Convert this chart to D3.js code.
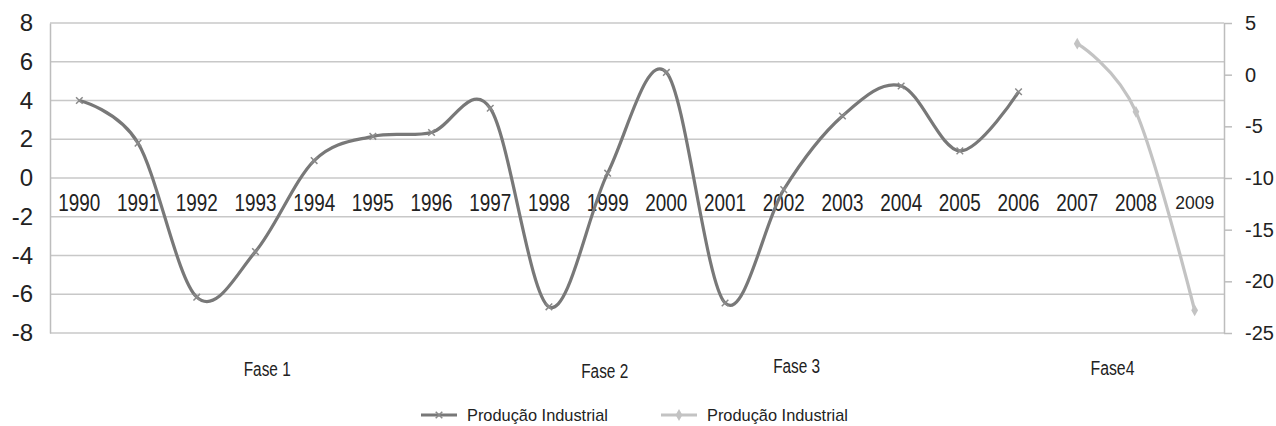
<!DOCTYPE html>
<html lang="pt">
<head>
    <meta charset="UTF-8">
    <title>Produção Industrial</title>
    <script src="https://cdn.jsdelivr.net/npm/d3@7/dist/d3.min.js"></script>
</head>
<body>
<style>
    body {
        margin: 0;
        background-color: white;
    }
    svg text {
        font-family: "Liberation Sans", "Arial", sans-serif;
        fill: #222;
    }
    .grid line {
        stroke: #c8c8c8;
        stroke-width: 1.5;
    }
    .axis path,
    .axis line {
        fill: none;
        stroke: #bdbdbd;
        stroke-width: 1.5;
    }
</style>
<svg width="1276" height="426"></svg>
<script>
    // categorias e valores
    var years = ["1990", "1991", "1992", "1993", "1994", "1995", "1996", "1997", "1998", "1999",
        "2000", "2001", "2002", "2003", "2004", "2005", "2006", "2007", "2008", "2009"];
    var seriesA = [4.0, 1.8, -6.15, -3.8, 0.9, 2.15, 2.35, 3.6, -6.65, 0.25,
        5.45, -6.45, -0.6, 3.2, 4.75, 1.4, 4.45];            // eixo esquerdo, 1990-2006
    var seriesB = [3.0, -3.6, -22.8];                         // eixo direito, 2007-2009
    var seriesBYears = ["2007", "2008", "2009"];
    var leftTicks = [8, 6, 4, 2, 0, -2, -4, -6, -8];
    var rightTicks = [5, 0, -5, -10, -15, -20, -25];
    var phases = ["Fase 1", "Fase 2", "Fase 3", "Fase4"];
    var phasePos = ["1993.2", "1998.95", "2002.22", "2007.6"];
    var legendNames = ["Produção Industrial", "Produção Industrial"];

    var svg = d3.select("svg");
    var pLeft = 50, pRight = 1224, pTop = 23, pBottom = 333;

    var x = d3.scaleBand().domain(years).range([pLeft, pRight]);
    var cx = function (y) { return x(y) + x.bandwidth() / 2; };
    var yL = d3.scaleLinear().domain([-8, 8]).range([pBottom, pTop]);
    var yR = d3.scaleLinear().domain([-25, 5]).range([pBottom, pTop]);
    var plain = function (d) { return String(d); };

    // linhas de grade
    svg.append("g").attr("class", "grid")
        .selectAll("line").data(leftTicks).enter().append("line")
        .attr("x1", pLeft).attr("x2", pRight)
        .attr("y1", function (d) { return yL(d); })
        .attr("y2", function (d) { return yL(d); });

    // eixo esquerdo
    var axL = svg.append("g").attr("class", "axis")
        .attr("transform", "translate(" + pLeft + ",0)")
        .call(d3.axisLeft(yL).tickValues(leftTicks).tickSize(0).tickPadding(17).tickFormat(plain));
    axL.selectAll("text").style("font-size", "24px");

    // eixo direito
    var axR = svg.append("g").attr("class", "axis")
        .attr("transform", "translate(" + pRight + ",0)")
        .call(d3.axisRight(yR).tickValues(rightTicks).tickSize(8).tickSizeOuter(0).tickPadding(13).tickFormat(plain));
    axR.selectAll("text").style("font-size", "20px");

    // eixo das categorias (no zero)
    var axX = svg.append("g").attr("class", "axis")
        .attr("transform", "translate(0," + yL(0) + ")")
        .call(d3.axisBottom(x).tickSize(0).tickPadding(17));
    axX.select(".domain").remove();
    axX.selectAll("text")
        .style("font-size", function (d) { return d === "2009" ? "18px" : "23px"; })
        .attr("dy", function (d) { return d === "2009" ? "0.8em" : "0.71em"; })
        .attr("textLength", function (d) { return d === "2009" ? 39 : 42; })
        .attr("lengthAdjust", "spacingAndGlyphs");

    // curvas
    var lineA = d3.line()
        .x(function (d, i) { return cx(years[i]); })
        .y(function (d) { return yL(d); })
        .curve(d3.curveCardinal.tension(0));
    svg.append("path").datum(seriesA)
        .attr("d", lineA)
        .attr("fill", "none").attr("stroke", "#787878").attr("stroke-width", 3.2);

    var lineB = d3.line()
        .x(function (d, i) { return cx(seriesBYears[i]); })
        .y(function (d) { return yR(d); })
        .curve(d3.curveCardinal.tension(0));
    svg.append("path").datum(seriesB)
        .attr("d", lineB)
        .attr("fill", "none").attr("stroke", "#c3c3c3").attr("stroke-width", 3.2);

    // marcadores
    var xMark = d3.symbol().type(d3.symbolX).size(30);
    var dMark = d3.symbol().type(d3.symbolDiamond).size(40);
    svg.selectAll(".mA").data(seriesA).enter().append("path")
        .attr("class", "mA")
        .attr("d", xMark)
        .attr("transform", function (d, i) { return "translate(" + cx(years[i]) + "," + yL(d) + ")"; })
        .attr("stroke", "#8a8a8a").attr("stroke-width", 1.5).attr("fill", "none");
    svg.selectAll(".mB").data(seriesB).enter().append("path")
        .attr("class", "mB")
        .attr("d", dMark)
        .attr("transform", function (d, i) { return "translate(" + cx(seriesBYears[i]) + "," + yR(d) + ")"; })
        .attr("fill", "#c3c3c3");

    // fases
    var px = d3.scaleLinear().domain([1990, 2009]).range([cx("1990"), cx("2009")]);
    var phaseY = [369, 371, 366, 368];
    svg.selectAll(".phase").data(phases).enter().append("text")
        .attr("class", "phase")
        .attr("x", function (d, i) { return px(+phasePos[i]); })
        .attr("y", function (d, i) { return phaseY[i]; })
        .attr("dy", "0.36em")
        .attr("text-anchor", "middle")
        .style("font-size", "20px")
        .attr("textLength", function (d) { return d === "Fase4" ? 44 : 47; })
        .attr("lengthAdjust", "spacingAndGlyphs")
        .text(function (d) { return d; });

    // legenda
    var legColors = ["#787878", "#c3c3c3"];
    var legX = [421, 661];
    var leg = svg.selectAll(".leg").data(legendNames).enter().append("g")
        .attr("class", "leg")
        .attr("transform", function (d, i) { return "translate(" + legX[i] + ",415)"; });
    leg.append("line").attr("x1", 0).attr("x2", 36).attr("y1", 0).attr("y2", 0)
        .attr("stroke", function (d, i) { return legColors[i]; }).attr("stroke-width", 3.2);
    leg.append("path")
        .attr("d", function (d, i) { return i === 0 ? xMark() : dMark(); })
        .attr("transform", "translate(18,0)")
        .attr("stroke", function (d, i) { return i === 0 ? "#8a8a8a" : "none"; })
        .attr("stroke-width", 1.5)
        .attr("fill", function (d, i) { return i === 0 ? "none" : legColors[i]; });
    leg.append("text").attr("x", 46).attr("dy", "0.36em")
        .style("font-size", "17px")
        .attr("textLength", 141)
        .attr("lengthAdjust", "spacingAndGlyphs")
        .text(function (d) { return d; });
</script>
</body>
</html>
